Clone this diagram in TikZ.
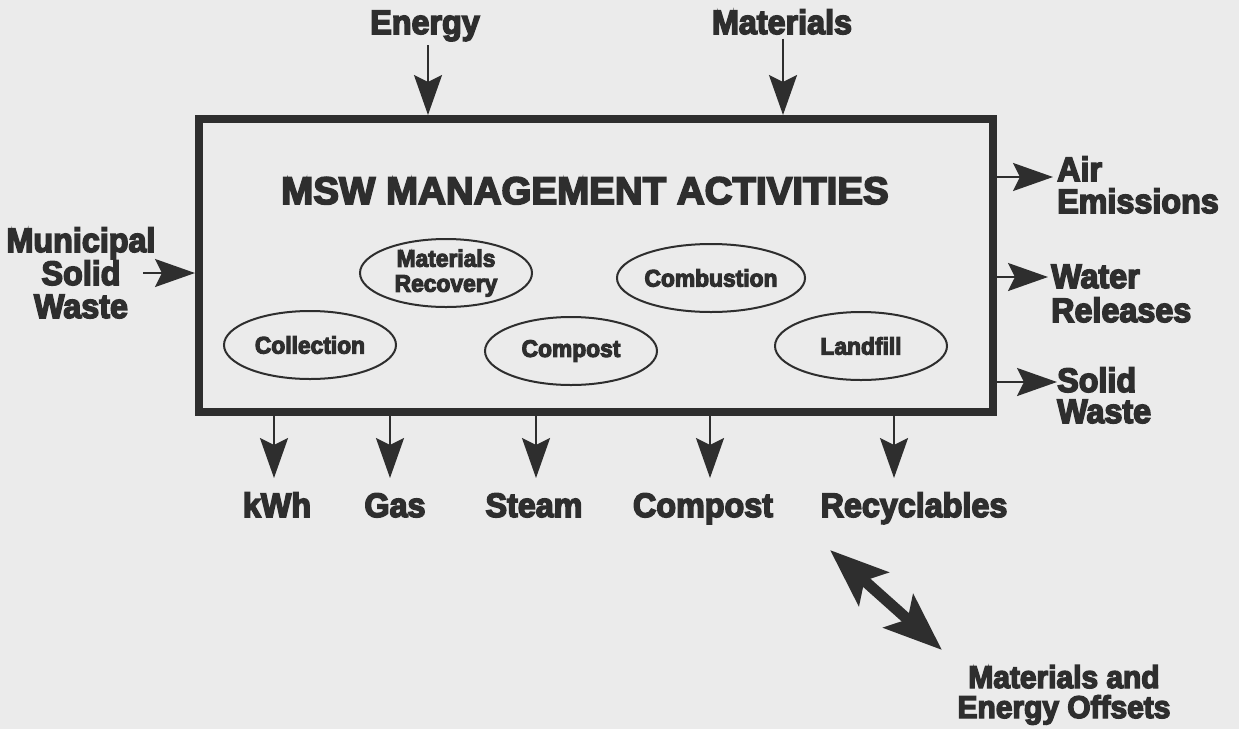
\documentclass[tikz,border=0pt]{standalone}
\usepackage{fontspec}
\usetikzlibrary{shapes.geometric,arrows.meta}
\newfontfamily\hv{Liberation Sans Bold}[FakeBold=4.5, FakeStretch=0.95]
\newfontfamily\hvt{Liberation Sans Bold}[FakeBold=4.5]
\definecolor{ink}{HTML}{2E2E2E}
\definecolor{paper}{HTML}{EBEBEB}
\begin{document}
\begin{tikzpicture}[x=1pt,y=-1pt,
  lab/.style={font=\hv\fontsize{34}{33}\selectfont, text=ink, inner sep=0pt, align=center},
  elab/.style={font=\hv\fontsize{24}{25}\selectfont, text=ink},
  activity/.style={ellipse, draw=ink, line width=2, minimum width=172, minimum height=68, inner sep=0pt, elab, align=center},
  flow/.style={draw=ink, line width=2.5, -{Stealth[length=40pt,width=28pt,inset=7pt]}},
  offset/.style={draw=ink, line width=11, {Stealth[length=58pt,width=44pt,inset=12pt]}-{Stealth[length=58pt,width=44pt,inset=12pt]}}
]
% page
\fill[paper] (0,0) rectangle (1239,729);
\useasboundingbox (0,0) rectangle (1239,729);

% main activity box
\node[draw=ink, line width=8, minimum width=794, minimum height=293, inner sep=0pt] (box) at (596,265.5) {};
\node[font=\hvt\fontsize{38.5}{40}\selectfont, text=ink, anchor=base, inner sep=0pt] (title) at (585,204) {MSW MANAGEMENT ACTIVITIES};

% activities
\node[activity] (mrf)  at (446,273) {Materials\\Recovery};
\node[activity] (comb) at (711,278) {Combustion};
\node[activity] (coll) at (310,345) {Collection};
\node[activity] (comp) at (571,351) {Compost};
\node[activity] (land) at (861,346) {Landfill};

% inputs
\node[lab, anchor=base] (energy) at (425,34) {Energy};
\node[lab, anchor=base] (mat) at (782,34) {Materials};
\draw[flow] ([xshift=3,yshift=-4]energy.south) -- ([xshift=3]energy.south |- box.north);
\draw[flow] ([xshift=1,yshift=-4]mat.south) -- ([xshift=1]mat.south |- box.north);

% multi-line labels: the base anchor sits on the last line
\node[lab, anchor=base] (msw) at (81,318) {Municipal\\Solid\\Waste};
\coordinate (mswin) at (143,273);
\draw[flow] (mswin) -- (mswin -| box.west);

% releases
\node[lab, anchor=base west, align=left, font=\hv\fontsize{34}{32}\selectfont] (air) at (1057,213) {Air\\Emissions};
\node[lab, anchor=base west, align=left, font=\hv\fontsize{34}{34}\selectfont] (water) at (1051,322) {Water\\Releases};
\node[lab, anchor=base west, align=left, font=\hv\fontsize{34}{31}\selectfont] (solid) at (1057,423) {Solid\\Waste};
\coordinate (tair) at (1053,177);
\coordinate (twater) at (1048,277);
\coordinate (tsolid) at (1057,382);
\draw[flow] (tair -| box.east) -- (tair);
\draw[flow] (twater -| box.east) -- (twater);
\draw[flow] (tsolid -| box.east) -- (tsolid);

% products
\node[lab, anchor=base] (kwh) at (277,517) {kWh};
\node[lab, anchor=base] (gas) at (395,517) {Gas};
\node[lab, anchor=base] (steam) at (534,517) {Steam};
\node[lab, anchor=base] (compost) at (703,517) {Compost};
\node[lab, anchor=base] (recyc) at (914,517) {Recyclables};
\coordinate (tkwh) at (274,478);
\coordinate (tgas) at (390,478);
\coordinate (tsteam) at (536,478);
\coordinate (tcompost) at (710,478);
\coordinate (trecyc) at (894,478);
\foreach \t in {tkwh,tgas,tsteam,tcompost,trecyc}
  \draw[flow] (\t |- box.south) -- (\t);

% offsets
\node[lab, anchor=base, font=\hv\fontsize{31.5}{30}\selectfont] (offs) at (1064,718) {Materials and\\Energy Offsets};
\coordinate (oa) at (830,550);
\coordinate (ob) at (942,650);
\draw[offset] (oa) -- (ob);
\end{tikzpicture}
\end{document}
